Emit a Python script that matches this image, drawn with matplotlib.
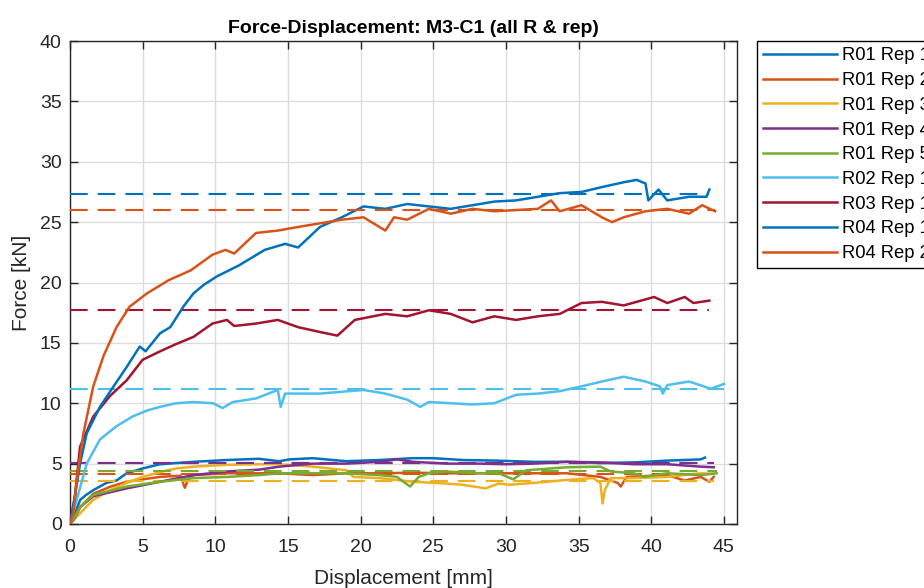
import numpy as np
import matplotlib.pyplot as plt

# ── Data ──────────────────────────────────────────────────────────────────────
labels = ["R01 Rep 1", "R01 Rep 2", "R01 Rep 3", "R01 Rep 4", "R01 Rep 5",
          "R02 Rep 1", "R03 Rep 1", "R04 Rep 1", "R04 Rep 2"]

r01_1_x = [0, 0.25, 0.7, 1.1, 1.6, 2.5, 3.2, 3.9, 5.0, 6.2, 7.3, 8.5, 10.8, 13.0, 14.4, 15.1, 16.7,
           19.0, 21.3, 23.6, 25.0, 27.0, 29.3, 31.9, 34.2, 36.5, 38.8, 41.1, 43.4, 43.7]
r01_1_f = [0, 0.6, 2.0, 2.4, 2.8, 3.4, 3.6, 4.2, 4.6, 4.95, 5.05, 5.15, 5.3, 5.4, 5.2, 5.35, 5.45,
           5.2, 5.3, 5.45, 5.45, 5.3, 5.25, 5.15, 5.15, 5.05, 5.1, 5.25, 5.35, 5.5]

r01_2_x = [0, 0.25, 0.7, 1.6, 2.8, 3.9, 5.0, 6.2, 7.6, 7.9, 8.2, 8.5, 10.8, 13.0, 14.4, 16.7, 19.0,
           21.3, 23.6, 25.9, 28.2, 31.9, 34.2, 36.5, 37.7, 37.9, 38.3, 41.1, 42.3, 43.4, 44.0, 44.3]
r01_2_f = [0, 0.5, 1.4, 2.5, 3.1, 3.5, 3.7, 3.9, 4.0, 3.0, 3.9, 4.05, 4.2, 4.2, 4.2, 4.05, 4.2,
           4.2, 4.25, 4.2, 4.2, 4.2, 4.2, 3.9, 3.4, 3.1, 3.9, 4.05, 3.6, 3.9, 3.5, 3.9]

r01_3_x = [0, 0.7, 1.6, 2.75, 3.9, 5.0, 6.2, 7.3, 8.5, 10.8, 13.0, 14.4, 16.7, 19.0, 19.5, 21.3,
           23.6, 25.9, 27.0, 28.6, 29.5, 30.2, 31.9, 34.2, 36.0, 36.5, 36.65, 36.8, 37.2, 38.8,
           41.1, 43.4, 44.3]
r01_3_f = [0, 0.9, 2.0, 2.8, 3.4, 3.9, 4.3, 4.6, 4.75, 4.9, 4.95, 4.95, 4.75, 4.45, 3.9, 3.8,
           3.5, 3.35, 3.25, 2.95, 3.35, 3.25, 3.4, 3.65, 3.8, 3.4, 1.7, 2.8, 3.8, 3.8,
           3.9, 4.2, 4.15]

r01_4_x = [0, 0.25, 0.7, 1.6, 3.9, 6.2, 8.5, 10.8, 13.0, 14.4, 16.7, 19.0, 21.3, 22.5, 23.6, 25.9,
           28.2, 30.0, 31.9, 34.2, 36.5, 38.8, 41.1, 43.4, 44.3]
r01_4_f = [0, 0.35, 1.4, 2.3, 2.95, 3.5, 4.05, 4.35, 4.5, 4.75, 5.0, 5.0, 5.15, 5.35, 5.15, 5.0,
           5.0, 4.95, 5.0, 5.15, 5.1, 4.95, 4.95, 4.75, 4.7]

r01_5_x = [0, 0.25, 0.7, 1.6, 3.9, 6.2, 8.5, 10.8, 13.0, 14.4, 16.7, 19.0, 21.3, 22.5, 23.4, 24.0,
           24.7, 25.9, 28.2, 29.5, 30.5, 31.4, 34.2, 36.5, 37.2, 38.8, 39.5, 41.1, 43.4, 44.5]
r01_5_f = [0, 0.4, 1.4, 2.4, 3.1, 3.5, 3.8, 3.9, 4.05, 4.2, 4.2, 4.2, 4.05, 3.9, 3.1, 3.9,
           4.2, 4.35, 4.2, 4.2, 3.7, 4.45, 4.7, 4.75, 4.35, 4.2, 3.9, 4.2, 4.05, 4.2]

r02_1_x = [0, 0.46, 1.15, 2.06, 3.2, 4.3, 5.3, 6.2, 7.3, 8.5, 9.85, 10.5, 11.2, 12.8, 14.3, 14.5,
           14.8, 17.2, 20.2, 21.7, 23.2, 24.1, 24.7, 27.7, 29.2, 30.7, 32.2, 33.7, 35.2, 36.6,
           38.1, 39.6, 40.6, 40.8, 41.1, 42.6, 44.1, 45.0]
r02_1_f = [0, 2.0, 5.0, 7.0, 8.1, 8.9, 9.4, 9.7, 10.0, 10.1, 10.0, 9.6, 10.1, 10.4, 11.1, 9.7,
           10.8, 10.8, 11.1, 10.8, 10.3, 9.7, 10.1, 9.9, 10.0, 10.7, 10.8, 11.0, 11.4, 11.8,
           12.2, 11.8, 11.4, 10.8, 11.5, 11.8, 11.2, 11.6]

r03_1_x = [0, 0.34, 0.69, 1.6, 2.75, 3.9, 5.0, 6.2, 7.3, 8.5, 9.8, 10.8, 11.3, 12.8, 14.3, 15.7,
           17.2, 18.4, 19.6, 21.7, 23.2, 24.7, 26.2, 27.7, 29.2, 30.7, 32.2, 33.7, 35.2, 36.6,
           38.1, 40.2, 41.1, 42.3, 42.9, 44.0]
r03_1_f = [0, 2.3, 6.4, 8.9, 10.6, 11.9, 13.6, 14.3, 14.9, 15.5, 16.6, 16.9, 16.4, 16.6, 16.9, 16.3,
           15.9, 15.6, 16.9, 17.4, 17.2, 17.7, 17.4, 16.7, 17.2, 16.9, 17.2, 17.4, 18.3, 18.4,
           18.1, 18.8, 18.3, 18.8, 18.3, 18.5]

r04_1_x = [0, 0.34, 0.69, 1.15, 2.06, 3.0, 3.9, 4.8, 5.2, 6.2, 6.9, 7.8, 8.5, 9.2, 10.1, 11.6,
           13.4, 14.8, 15.7, 17.2, 18.7, 20.2, 21.7, 23.2, 24.7, 26.2, 27.7, 29.2, 30.7, 32.2,
           33.7, 35.2, 36.6, 38.1, 39.0, 39.6, 39.8, 40.5, 41.1, 42.6, 43.8, 44.0]
r04_1_f = [0, 2.3, 5.0, 7.5, 9.7, 11.4, 13.0, 14.7, 14.3, 15.8, 16.3, 18.0, 19.1, 19.8, 20.5, 21.4,
           22.7, 23.2, 22.9, 24.6, 25.4, 26.3, 26.1, 26.5, 26.3, 26.1, 26.4, 26.7, 26.8, 27.1,
           27.4, 27.5, 27.9, 28.3, 28.5, 28.2, 26.8, 27.7, 26.8, 27.1, 27.1, 27.7]

r04_2_x = [0, 0.23, 0.46, 0.92, 1.6, 2.3, 3.2, 4.1, 5.3, 6.8, 8.3, 9.8, 10.7, 11.3, 12.8, 14.3,
           15.7, 17.2, 18.7, 20.2, 21.7, 22.3, 23.2, 24.7, 26.2, 27.7, 29.2, 30.7, 32.2, 33.1,
           33.7, 35.2, 36.6, 37.3, 38.1, 39.6, 41.1, 42.6, 43.5, 44.4]
r04_2_f = [0, 0.9, 3.6, 7.5, 11.4, 13.9, 16.3, 18.0, 19.1, 20.2, 21.0, 22.3, 22.7, 22.4, 24.1, 24.3,
           24.6, 24.9, 25.2, 25.4, 24.3, 25.4, 25.2, 26.1, 25.7, 26.1, 25.9, 26.0, 26.1, 26.8,
           25.9, 26.4, 25.4, 25.0, 25.4, 25.9, 26.1, 25.7, 26.4, 25.9]

# dashed reference level per curve
levels = [5.05, 4.1, 3.56, 5.02, 4.39, 11.2, 17.75, 27.3, 26.0]

xs = [r01_1_x, r01_2_x, r01_3_x, r01_4_x, r01_5_x, r02_1_x, r03_1_x, r04_1_x, r04_2_x]
fs = [r01_1_f, r01_2_f, r01_3_f, r01_4_f, r01_5_f, r02_1_f, r03_1_f, r04_1_f, r04_2_f]

# MATLAB default colour order
colors = ["#0072BD", "#D95319", "#EDB120", "#7E2F8E", "#77AC30", "#4DBEEE", "#A2142F",
          "#0072BD", "#D95319"]

# ── Plot ──────────────────────────────────────────────────────────────────────
plt.rcParams['font.family'] = ['Liberation Sans', 'DejaVu Sans']
fig = plt.figure(figsize=(9.24, 5.88), dpi=100)
ax = fig.add_axes([70 / 924, 1 - 524 / 588, 667 / 924, 483 / 588])

handles = []
for x, f, lev, c, lab in zip(xs, fs, levels, colors, labels):
    h, = ax.plot(x, f, color=c, lw=1.8, label=lab, zorder=3)
    ax.plot([0, x[-1]], [lev, lev], color=c, lw=1.5, ls=(0, (8.5, 4.8)), zorder=3)
    handles.append(h)

ax.set_xlim(0, 45.9)
ax.set_ylim(0, 40)
ax.set_xticks(np.arange(0, 46, 5))
ax.set_yticks(np.arange(0, 41, 5))
ax.grid(True, color="#dcdcdc", lw=1, zorder=0)
ax.set_axisbelow(True)
ax.tick_params(direction='in', length=6, width=1, top=True, right=True,
               labelsize=14, colors="#262626", labelcolor="#262626")
ax.tick_params(axis='x', pad=11)
ax.tick_params(axis='y', pad=6)
for s in ax.spines.values():
    s.set_color("#262626")
    s.set_linewidth(1)

ax.set_xlabel("Displacement [mm]", fontsize=15, color="#262626", labelpad=9)
ax.set_ylabel("Force [kN]", fontsize=15, color="#262626", labelpad=6)
ax.set_title("Force-Displacement: M3-C1 (all R & rep)", fontsize=14,
             fontweight='bold', pad=6, x=0.515)

leg = fig.legend(handles=handles, loc='upper left', bbox_to_anchor=(757 / 924, 1 - 41 / 588),
                 borderaxespad=0, frameon=True, fancybox=False, framealpha=1,
                 edgecolor='black', fontsize=13.2, handlelength=4.0, handletextpad=0.3,
                 labelspacing=0.42, borderpad=0.35)
leg.get_frame().set_linewidth(1)

plt.savefig("out.png", dpi=100)
